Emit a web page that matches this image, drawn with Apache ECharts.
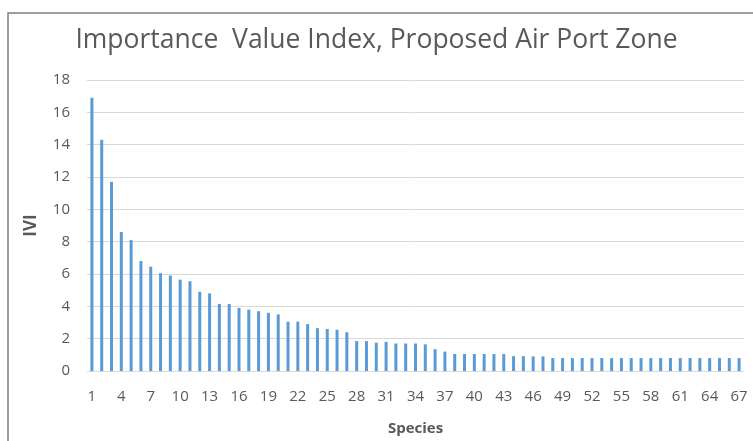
<!DOCTYPE html>
<html>
<head>
<meta charset="utf-8">
<script src="https://cdn.jsdelivr.net/npm/echarts@6/dist/echarts.min.js"></script>
<style>
  html, body { margin: 0; padding: 0; background: #fff; }
  #main { width: 753px; height: 441px; }
</style>
</head>
<body>
<div id="main"></div>
<script>
// species numbers 1..67
var species = [];
for (var i = 1; i <= 67; i++) species.push(String(i));

// IVI value per species
var ivi = [
  16.9, 14.3, 11.7, 8.6, 8.1, 6.8, 6.45, 6.05, 5.9, 5.65,
  5.55, 4.9, 4.8, 4.15, 4.15, 3.9, 3.8, 3.7, 3.6, 3.5,
  3.05, 3.05, 2.9, 2.65, 2.6, 2.55, 2.4, 1.85, 1.85, 1.75,
  1.8, 1.7, 1.7, 1.7, 1.65, 1.35, 1.2, 1.05, 1.05, 1.05,
  1.05, 1.05, 1.05, 0.92, 0.92, 0.9, 0.9, 0.8, 0.8, 0.8,
  0.8, 0.8, 0.8, 0.8, 0.8, 0.8, 0.8, 0.8, 0.8, 0.8,
  0.8, 0.8, 0.8, 0.8, 0.8, 0.8, 0.8
];

var chart = echarts.init(document.getElementById('main'));
var option = {
  backgroundColor: '#fff',
  title: {
    text: 'Importance  Value Index, Proposed Air Port Zone',
    left: 'center',
    top: 22,
    textStyle: {
      fontFamily: 'Open Sans',
      fontWeight: 'normal',
      fontSize: 26.5,
      color: '#595959'
    }
  },
  graphic: [{
    type: 'rect',
    shape: { x: 8, y: 13, width: 760, height: 450 },
    style: { fill: 'none', stroke: '#7f7f7f', lineWidth: 1.5 },
    silent: true
  }],
  grid: { left: 87, right: 9, top: 80, bottom: 70, outerBoundsMode: 'none' },
  xAxis: {
    type: 'category',
    data: species,
    name: 'Species',
    nameLocation: 'middle',
    nameGap: 50,
    nameTextStyle: { fontFamily: 'Open Sans', fontWeight: 'bold', fontSize: 15, color: '#595959' },
    axisLine: { lineStyle: { color: '#d9d9d9' } },
    axisTick: { show: false },
    axisLabel: {
      interval: 2,
      margin: 18,
      fontFamily: 'Open Sans',
      fontSize: 15,
      color: '#595959'
    }
  },
  yAxis: {
    type: 'value',
    min: 0,
    max: 18,
    interval: 2,
    name: 'IVI',
    nameLocation: 'middle',
    nameGap: 47,
    nameTextStyle: { fontFamily: 'Open Sans', fontWeight: 'bold', fontSize: 17, color: '#595959' },
    axisLine: { show: false },
    axisTick: { show: false },
    axisLabel: { margin: 17, fontFamily: 'Open Sans', fontSize: 15, color: '#595959' },
    splitLine: { lineStyle: { color: '#d9d9d9', width: 1 } }
  },
  series: [{
    type: 'bar',
    data: ivi,
    barWidth: 3,
    itemStyle: { color: '#5b9bd5' },
    animation: false
  }]
};
chart.setOption(option);
</script>
</body>
</html>
